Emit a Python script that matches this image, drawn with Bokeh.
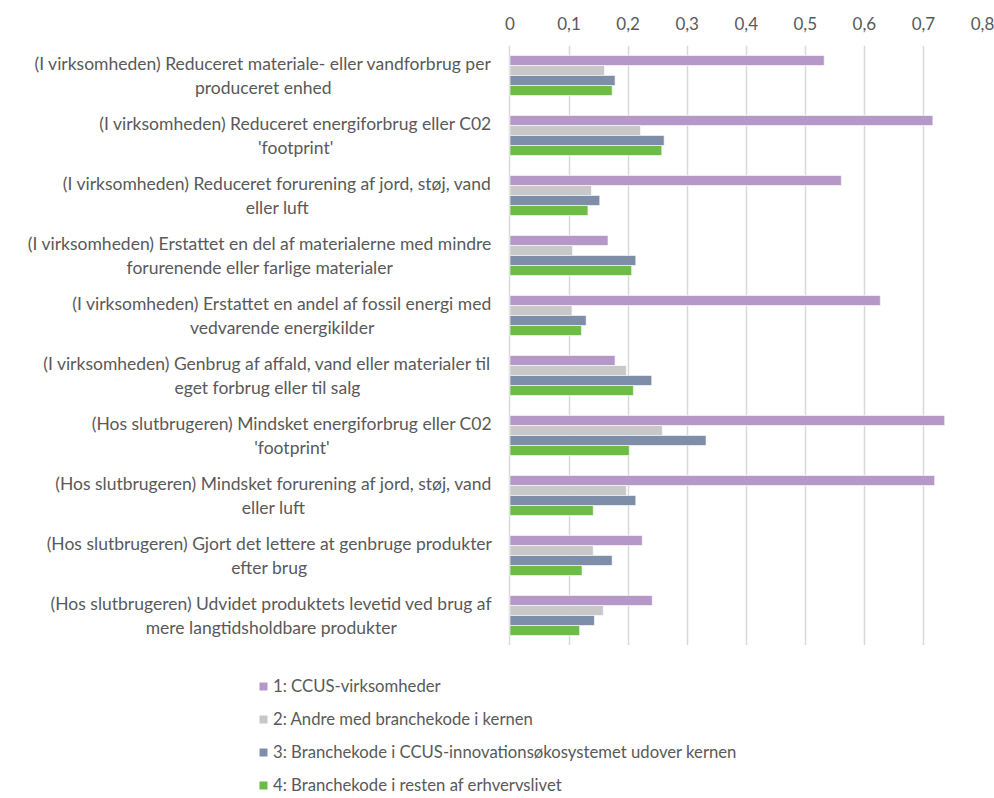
from bokeh.plotting import figure
from bokeh.layouts import column
from bokeh.models import (ColumnDataSource, FactorRange, Range1d, FixedTicker,
                          CustomJSTickFormatter, Legend, LegendItem)
from bokeh.transform import dodge
from bokeh.core.properties import value
from bokeh.embed import file_html
from bokeh.resources import INLINE

categories = [
    "(I virksomheden) Reduceret materiale- eller vandforbrug per\nproduceret enhed",
    "(I virksomheden) Reduceret energiforbrug eller C02\n'footprint'",
    "(I virksomheden) Reduceret forurening af jord, støj, vand\neller luft",
    "(I virksomheden) Erstattet en del af materialerne med mindre\nforurenende eller farlige materialer",
    "(I virksomheden) Erstattet en andel af fossil energi med\nvedvarende energikilder",
    "(I virksomheden) Genbrug af affald, vand eller materialer til\neget forbrug eller til salg",
    "(Hos slutbrugeren) Mindsket energiforbrug eller C02\n'footprint'",
    "(Hos slutbrugeren) Mindsket forurening af jord, støj, vand\neller luft",
    "(Hos slutbrugeren) Gjort det lettere at genbruge produkter\nefter brug",
    "(Hos slutbrugeren) Udvidet produktets levetid ved brug af\nmere langtidsholdbare produkter",
]

series_names = [
    "1: CCUS-virksomheder",
    "2: Andre med branchekode i kernen",
    "3: Branchekode i CCUS-innovationsøkosystemet udover kernen",
    "4: Branchekode i resten af erhvervslivet",
]

ccus = [0.532, 0.716, 0.561, 0.166, 0.627, 0.178, 0.736, 0.719, 0.224, 0.241]
andre = [0.160, 0.221, 0.138, 0.106, 0.105, 0.197, 0.258, 0.197, 0.141, 0.158]
innov = [0.178, 0.261, 0.152, 0.213, 0.129, 0.240, 0.332, 0.213, 0.173, 0.143]
resten = [0.173, 0.257, 0.132, 0.206, 0.121, 0.209, 0.202, 0.141, 0.122, 0.118]

colors = ["#B598C8", "#C8C8C8", "#7E8EA8", "#6CBD45"]
x_ticks = [0, 0.1, 0.2, 0.3, 0.4, 0.5, 0.6, 0.7, 0.8]

FONT = "Lato"
TXT = "#595959"

BAR_H = 1 / 6
offsets = [1.5 * BAR_H, 0.5 * BAR_H, -0.5 * BAR_H, -1.5 * BAR_H]

y_range = FactorRange(factors=categories[::-1], range_padding=0)

p = figure(width=994, height=645, y_range=y_range, x_range=Range1d(-0.849, 0.8),
           x_axis_location="above", output_backend="svg", toolbar_location=None,
           min_border_left=8, min_border_right=12, min_border_top=45,
           min_border_bottom=0)
p.outline_line_color = None

p.yaxis.visible = False
p.ygrid.visible = False

xa = p.xaxis[0]
xa.ticker = FixedTicker(ticks=x_ticks)
xa.formatter = CustomJSTickFormatter(
    code="return tick == 0 ? '0' : tick.toFixed(1).replace('.', ',');")
xa.axis_line_color = None
xa.major_tick_line_color = None
xa.minor_tick_line_color = None
xa.major_tick_out = 0
xa.major_label_standoff = 16
xa.major_label_text_font = FONT
xa.major_label_text_font_size = "17px"
xa.major_label_text_color = TXT

p.xgrid.ticker = FixedTicker(ticks=x_ticks)
p.xgrid.grid_line_color = "#D9D9D9"
p.xgrid.grid_line_width = 1.5

src = ColumnDataSource(dict(cat=categories, s1=ccus, s2=andre, s3=innov, s4=resten,
                            zero=[0] * len(categories)))

for key, off, col in zip(["s1", "s2", "s3", "s4"], offsets, colors):
    p.hbar(y=dodge("cat", off, range=p.y_range), left=0, right=key, height=BAR_H,
           source=src, fill_color=col, line_color="white", line_alpha=0.6,
           line_width=1)

p.text(x="zero", y="cat", text="cat", source=src, x_offset=-18,
       anchor="center_right", text_align="center", text_baseline="middle",
       text_font=value(FONT), text_font_size="17.5px", text_color=TXT,
       text_line_height=1.15)

# legend panel below the chart
lg = figure(width=994, height=153, output_backend="svg", toolbar_location=None,
            x_range=Range1d(0, 1), y_range=Range1d(0, 1),
            min_border_left=0, min_border_right=0, min_border_top=0,
            min_border_bottom=0)
lg.axis.visible = False
lg.grid.visible = False
lg.outline_line_color = None

items = []
for name, col in zip(series_names, colors):
    r = lg.hbar(y=[-10], left=[0], right=[0.1], height=1, fill_color=col,
                line_color=None)
    items.append(LegendItem(label=name, renderers=[r]))

legend = Legend(items=items, location=(250, 3), orientation="vertical",
                border_line_color=None, background_fill_alpha=0,
                padding=0, margin=0, spacing=13, label_height=16,
                glyph_height=10, glyph_width=10, label_standoff=5,
                label_text_font=FONT, label_text_font_size="16.7px",
                label_text_color=TXT)
lg.add_layout(legend, "center")

layout = column(p, lg, spacing=0)
open("out.html", "w").write(file_html(layout, INLINE))
